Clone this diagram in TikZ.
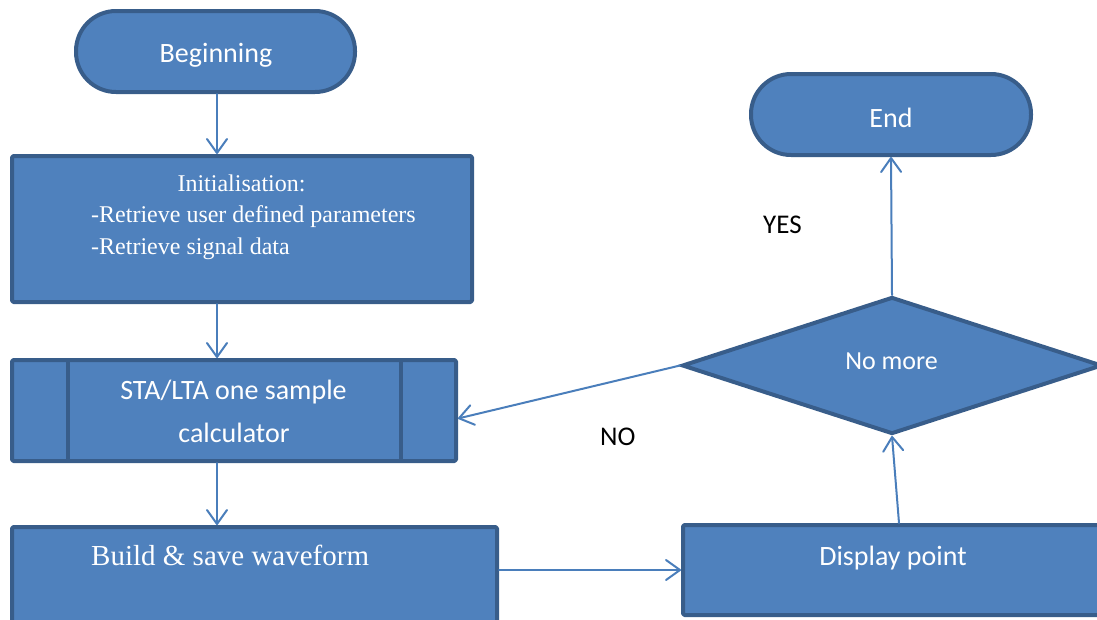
\documentclass[tikz,border=0pt]{standalone}
\usepackage{fontspec}
\setmainfont{Liberation Serif}
\newfontfamily\calibrifont{Carlito}
\usetikzlibrary{arrows.meta,shapes.geometric}
\definecolor{boxfill}{HTML}{4F81BD}
\definecolor{boxline}{HTML}{385D8A}
\definecolor{arrowline}{HTML}{4A7EBB}
\begin{document}
\begin{tikzpicture}[x=1pt,y=-1pt,
  shapebox/.style={draw=boxline,fill=boxfill,line width=4pt,line join=round,
    inner sep=0pt,rounded corners=1.5pt},
  terminal/.style={shapebox,rounded corners=40pt},
  decision/.style={draw=boxline,fill=boxfill,line width=4pt,diamond,inner sep=0pt,line join=miter},
  flow/.style={draw=arrowline,line width=2pt,line cap=round,
    -{Straight Barb[length=14pt,width=20pt,line cap=round,line join=round]}},
  sanslabel/.style={text=white,font=\calibrifont\fontsize{28}{34}\selectfont,inner sep=0pt,anchor=base},
  seriflabel/.style={text=white,font=\fontsize{24}{29}\selectfont,inner sep=0pt},
  plainlabel/.style={text=black,font=\calibrifont\fontsize{27}{32}\selectfont,inner sep=0pt,anchor=base west}]
\clip (0,0) rectangle (1097,619);

% shapes
\node[terminal,minimum width=279pt,minimum height=81pt] (begin) at (215.5,51.5) {};
\node[terminal,minimum width=280pt,minimum height=81pt] (end) at (891,114.5) {};
\node[shapebox,minimum width=460pt,minimum height=146pt] (init) at (242,229) {};
\node[shapebox,minimum width=444pt,minimum height=101pt] (sta) at (234,410.5) {};
\draw[boxline,line width=4pt] (68,362) -- (68,459) (401,362) -- (401,459);
\node[shapebox,minimum width=485pt,minimum height=110pt] (build) at (254.5,582) {};
\node[shapebox,minimum width=447pt,minimum height=90pt] (disp) at (906.5,570) {};
\node[decision,minimum width=420pt,minimum height=137pt] (dec) at (892,365.5) {};

% texts
\node[sanslabel] (tbegin) at (216,62) {Beginning};
\node[sanslabel] (tend) at (891,127) {End};
\node[seriflabel,anchor=base] (tinit1) at (241.5,191) {Initialisation:};
\node[seriflabel,anchor=base west] (tinit2) at (91,222) {-Retrieve user defined parameters};
\node[seriflabel,anchor=base west] (tinit3) at (91,254) {-Retrieve signal data};
\node[sanslabel] (tsta1) at (233.5,399) {STA/LTA one sample};
\node[sanslabel] (tsta2) at (234,442) {calculator};
\node[seriflabel,anchor=base west,font=\fontsize{29}{34}\selectfont] (tbuild) at (91,565) {Build \& save waveform};
\node[sanslabel] (tdisp) at (893,565) {Display point};
\node[sanslabel,font=\calibrifont\fontsize{26}{31}\selectfont] (tdec) at (891.5,369) {No more};
\node[plainlabel] (tyes) at (763,233) {YES};
\node[plainlabel] (tno) at (600,445) {NO};

% connectors
\coordinate (col) at (217,0);
\draw[flow] (col |- begin.south) -- (col |- init.north);
\draw[flow] (col |- init.south) -- (col |- sta.north);
\draw[flow] (col |- sta.south) -- (col |- build.north);
\draw[flow] (build.east |- disp.west) -- (disp.west);
\draw[flow] ([xshift=-7.5pt]disp.north) -- (dec.south);
\draw[flow] (dec.north) -- (end.south);
\draw[flow] (dec.west) -- ([yshift=-8pt]sta.east);
\end{tikzpicture}
\end{document}
